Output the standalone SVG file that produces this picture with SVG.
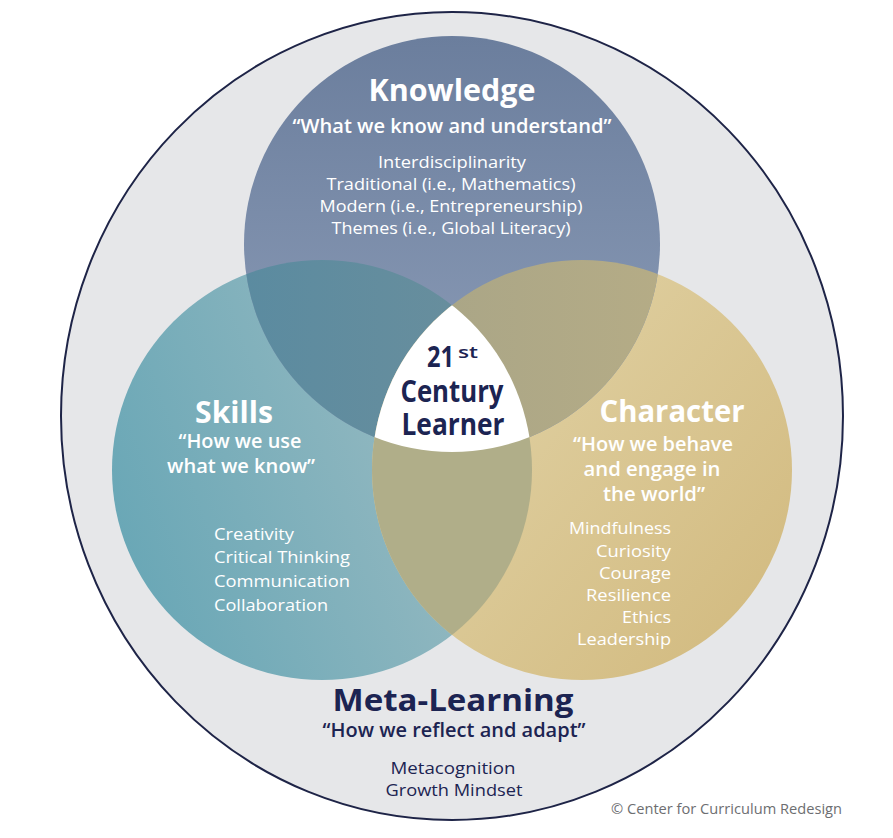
<svg xmlns="http://www.w3.org/2000/svg" width="893" height="838" viewBox="0 0 893 838">
<style>
text{font-family:"Open Sans","Noto Sans","Liberation Sans",sans-serif;}
.h{font-weight:700;font-size:30px;fill:#ffffff;text-anchor:middle;}
.q{font-weight:600;font-size:20px;fill:#ffffff;text-anchor:middle;}
.l{font-weight:400;font-size:17px;fill:#ffffff;}
.m{text-anchor:middle;}
.e{text-anchor:end;}
.navy{fill:#1c2452;}
</style>
<defs>
<linearGradient id="gK" gradientUnits="userSpaceOnUse" x1="0" y1="36" x2="0" y2="330">
<stop offset="0" stop-color="#6b7e9d"/><stop offset="1" stop-color="#8495b1"/>
</linearGradient>
<linearGradient id="gS" gradientUnits="userSpaceOnUse" x1="120" y1="560" x2="520" y2="420">
<stop offset="0" stop-color="#69a7b6"/><stop offset="1" stop-color="#9fbdc3"/>
</linearGradient>
<linearGradient id="gC" gradientUnits="userSpaceOnUse" x1="400" y1="320" x2="780" y2="640">
<stop offset="0" stop-color="#e2d4a8"/><stop offset="1" stop-color="#d2ba7f"/>
</linearGradient>
<linearGradient id="gKS" gradientUnits="userSpaceOnUse" x1="245" y1="0" x2="530" y2="0">
<stop offset="0" stop-color="#5b8ba0"/><stop offset="1" stop-color="#6c8f9c"/>
</linearGradient>
<linearGradient id="gKC" gradientUnits="userSpaceOnUse" x1="372" y1="0" x2="664" y2="0">
<stop offset="0" stop-color="#a7a487"/><stop offset="1" stop-color="#b5ac86"/>
</linearGradient>
<clipPath id="clipK"><circle cx="452" cy="244" r="208"/></clipPath>
<clipPath id="clipS"><circle cx="322" cy="470" r="210"/></clipPath>
</defs>

<g id="meta-learning">
<ellipse cx="452" cy="416" rx="391" ry="404" fill="#e6e7e9" stroke="#1e2447" stroke-width="2"/>
<text class="h navy" x="453" y="711" font-size="31" textLength="241" lengthAdjust="spacingAndGlyphs">Meta-Learning</text>
<text class="q navy" x="454" y="737" font-size="19" textLength="263" lengthAdjust="spacingAndGlyphs">“How we reflect and adapt”</text>
<text class="l m navy" x="453" y="774" textLength="125" lengthAdjust="spacingAndGlyphs">Metacognition</text>
<text class="l m navy" x="454" y="796" textLength="137" lengthAdjust="spacingAndGlyphs">Growth Mindset</text>
</g>

<g id="circles">
<circle id="skills-circle" cx="322" cy="470" r="210" fill="url(#gS)"/>
<circle id="character-circle" cx="582" cy="470" r="210" fill="url(#gC)"/>
<circle id="knowledge-circle" cx="452" cy="244" r="208" fill="url(#gK)"/>
<circle cx="322" cy="470" r="210" fill="url(#gKS)" clip-path="url(#clipK)"/>
<circle cx="582" cy="470" r="210" fill="url(#gKC)" clip-path="url(#clipK)"/>
<circle cx="582" cy="470" r="210" fill="#b0ae89" clip-path="url(#clipS)"/>
<g clip-path="url(#clipK)"><circle cx="582" cy="470" r="210" fill="#ffffff" clip-path="url(#clipS)"/></g>
</g>

<g id="knowledge">
<text class="h" x="452" y="101" textLength="167" lengthAdjust="spacingAndGlyphs">Knowledge</text>
<text class="q" x="452" y="133" textLength="319" lengthAdjust="spacingAndGlyphs">“What we know and understand”</text>
<text class="l m" x="452" y="168" textLength="148" lengthAdjust="spacingAndGlyphs">Interdisciplinarity</text>
<text class="l m" x="451" y="190" textLength="249" lengthAdjust="spacingAndGlyphs">Traditional (i.e., Mathematics)</text>
<text class="l m" x="451" y="212" textLength="263" lengthAdjust="spacingAndGlyphs">Modern (i.e., Entrepreneurship)</text>
<text class="l m" x="451" y="234" textLength="239" lengthAdjust="spacingAndGlyphs">Themes (i.e., Global Literacy)</text>
</g>

<g id="skills">
<text class="h" x="234" y="423" textLength="78" lengthAdjust="spacingAndGlyphs">Skills</text>
<text class="q" x="240" y="448" textLength="123" lengthAdjust="spacingAndGlyphs">“How we use</text>
<text class="q" x="241" y="473" textLength="148" lengthAdjust="spacingAndGlyphs">what we know”</text>
<text class="l" x="214" y="540" textLength="80" lengthAdjust="spacingAndGlyphs">Creativity</text>
<text class="l" x="214" y="563" textLength="136" lengthAdjust="spacingAndGlyphs">Critical Thinking</text>
<text class="l" x="214" y="587" textLength="136" lengthAdjust="spacingAndGlyphs">Communication</text>
<text class="l" x="214" y="611" textLength="114" lengthAdjust="spacingAndGlyphs">Collaboration</text>
</g>

<g id="character">
<text class="h" x="672" y="422" textLength="145" lengthAdjust="spacingAndGlyphs">Character</text>
<text class="q" x="653" y="451" textLength="160" lengthAdjust="spacingAndGlyphs">“How we behave</text>
<text class="q" x="652" y="476" textLength="137" lengthAdjust="spacingAndGlyphs">and engage in</text>
<text class="q" x="654" y="501" textLength="102" lengthAdjust="spacingAndGlyphs">the world”</text>
<text class="l e" x="671" y="534" textLength="102" lengthAdjust="spacingAndGlyphs">Mindfulness</text>
<text class="l e" x="671" y="557" textLength="75" lengthAdjust="spacingAndGlyphs">Curiosity</text>
<text class="l e" x="671" y="579" textLength="72" lengthAdjust="spacingAndGlyphs">Courage</text>
<text class="l e" x="671" y="601" textLength="85" lengthAdjust="spacingAndGlyphs">Resilience</text>
<text class="l e" x="671" y="623" textLength="49" lengthAdjust="spacingAndGlyphs">Ethics</text>
<text class="l e" x="671" y="645" textLength="94" lengthAdjust="spacingAndGlyphs">Leadership</text>
</g>

<g id="center-learner">
<text class="navy" x="427" y="367" font-size="29" font-weight="700"><tspan textLength="27" lengthAdjust="spacingAndGlyphs">21</tspan><tspan x="458" dy="-9" font-size="17" font-weight="600" textLength="20" lengthAdjust="spacingAndGlyphs">st</tspan></text>
<text class="h navy" x="452" y="402" font-size="28" textLength="103" lengthAdjust="spacingAndGlyphs">Century</text>
<text class="h navy" x="453" y="435" font-size="28" textLength="103" lengthAdjust="spacingAndGlyphs">Learner</text>
</g>

<g id="copyright">
<text x="611" y="814" font-size="15" fill="#6d6e71" textLength="231" lengthAdjust="spacingAndGlyphs">© Center for Curriculum Redesign</text>
</g>
</svg>
